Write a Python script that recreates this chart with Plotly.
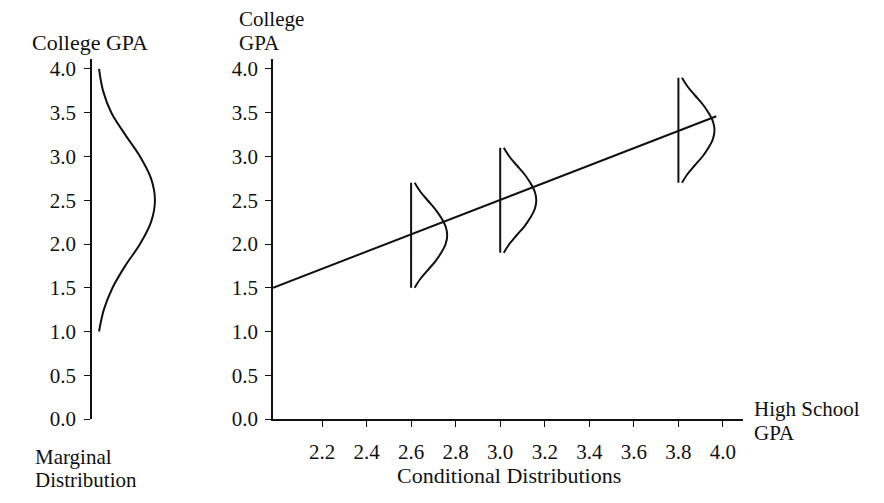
import plotly.graph_objects as go

W, H = 884, 503

# Marginal distribution of college GPA (density drawn sideways from the axis)
marg_gpa = [1.0, 1.25, 1.5, 1.75, 2.0, 2.25, 2.5, 2.75, 3.0, 3.25, 3.5, 3.75, 4.0]
marg_density = [0.089, 0.150, 0.260, 0.420, 0.608, 0.747, 0.797, 0.747, 0.608, 0.420, 0.245, 0.140, 0.089]

# Conditional distributions of college GPA at three high-school GPA levels
hs_levels = [2.6, 3.0, 3.8]
cond_means = [2.1, 2.5, 3.3]
cond_dev = [-0.6, -0.5, -0.4, -0.3, -0.2, -0.1, 0.0, 0.1, 0.2, 0.3, 0.4, 0.5, 0.6]
cond_density = [0.016, 0.041, 0.074, 0.108, 0.135, 0.155, 0.162, 0.155, 0.135, 0.108, 0.074, 0.041, 0.016]

# Regression line of college GPA on high-school GPA
reg_hs = [1.98, 3.97]
reg_college = [1.50, 3.46]

# Tick values
y_ticks = [0.0, 0.5, 1.0, 1.5, 2.0, 2.5, 3.0, 3.5, 4.0]
x_ticks = [2.2, 2.4, 2.6, 2.8, 3.0, 3.2, 3.4, 3.6, 3.8, 4.0]

FONT = "Liberation Serif"
INK = "#111111"
LW = 2.0


def px_x(p):
    return p / W


def px_y(p):
    return (H - p) / H


fig = go.Figure()

# Marginal curve
fig.add_trace(go.Scatter(
    x=marg_density, y=marg_gpa, mode="lines",
    line=dict(color=INK, width=LW, shape="spline", smoothing=1.0),
    xaxis="x", yaxis="y", hoverinfo="skip", showlegend=False,
))

# Regression line
fig.add_trace(go.Scatter(
    x=reg_hs, y=reg_college, mode="lines",
    line=dict(color=INK, width=LW),
    xaxis="x2", yaxis="y2", hoverinfo="skip", showlegend=False,
))

# Conditional distributions: a vertical baseline plus a sideways density curve
for hs, mu in zip(hs_levels, cond_means):
    ys = [mu + d for d in cond_dev]
    fig.add_trace(go.Scatter(
        x=[hs, hs], y=[ys[0], ys[-1]], mode="lines",
        line=dict(color=INK, width=LW),
        xaxis="x2", yaxis="y2", hoverinfo="skip", showlegend=False,
    ))
    fig.add_trace(go.Scatter(
        x=[hs + w for w in cond_density], y=ys, mode="lines",
        line=dict(color=INK, width=LW, shape="spline", smoothing=1.0),
        xaxis="x2", yaxis="y2", hoverinfo="skip", showlegend=False,
    ))

y_dom = [px_y(429), px_y(59)]
axis_common = dict(
    showline=True, linecolor=INK, linewidth=1.8,
    ticks="outside", ticklen=6, tickwidth=1.3, tickcolor=INK,
    showgrid=False, zeroline=False,
    tickfont=dict(family=FONT, size=21, color=INK),
)

fig.update_layout(
    width=W, height=H,
    margin=dict(l=0, r=0, t=0, b=0),
    paper_bgcolor="white", plot_bgcolor="white",
    font=dict(family=FONT, color=INK),
    xaxis=dict(domain=[px_x(92), px_x(171)], range=[0, 1], visible=False, anchor="y"),
    yaxis=dict(domain=y_dom, range=[0, 4.11], anchor="x",
               tickvals=y_ticks, ticktext=[f"{v:.1f}" for v in y_ticks],
               ticklabelstandoff=4, **axis_common),
    xaxis2=dict(domain=[px_x(273), px_x(743)], range=[1.98, 4.09], anchor="y2",
                tickvals=x_ticks, ticktext=[f"{v:.1f}" for v in x_ticks],
                ticklabelstandoff=7, **axis_common),
    yaxis2=dict(domain=y_dom, range=[0, 4.11], anchor="x2",
                tickvals=y_ticks, ticktext=[f"{v:.1f}" for v in y_ticks],
                ticklabelstandoff=3, **axis_common),
)


def label(text, x, y, xanchor="left", size=21):
    fig.add_annotation(
        text=text, x=px_x(x), y=px_y(y), xref="paper", yref="paper",
        xanchor=xanchor, yanchor="middle", showarrow=False,
        font=dict(family=FONT, size=size, color=INK),
    )


label("College GPA", 30, 42, size=22)
label("College", 237, 18)
label("GPA", 237, 42)
label("Marginal", 33, 468)
label("Distribution", 33, 492)
label("Conditional Distributions", 509, 487, xanchor="center", size=22)
label("High School", 752, 419)
label("GPA", 752, 443)

fig.write_html("out.html")
